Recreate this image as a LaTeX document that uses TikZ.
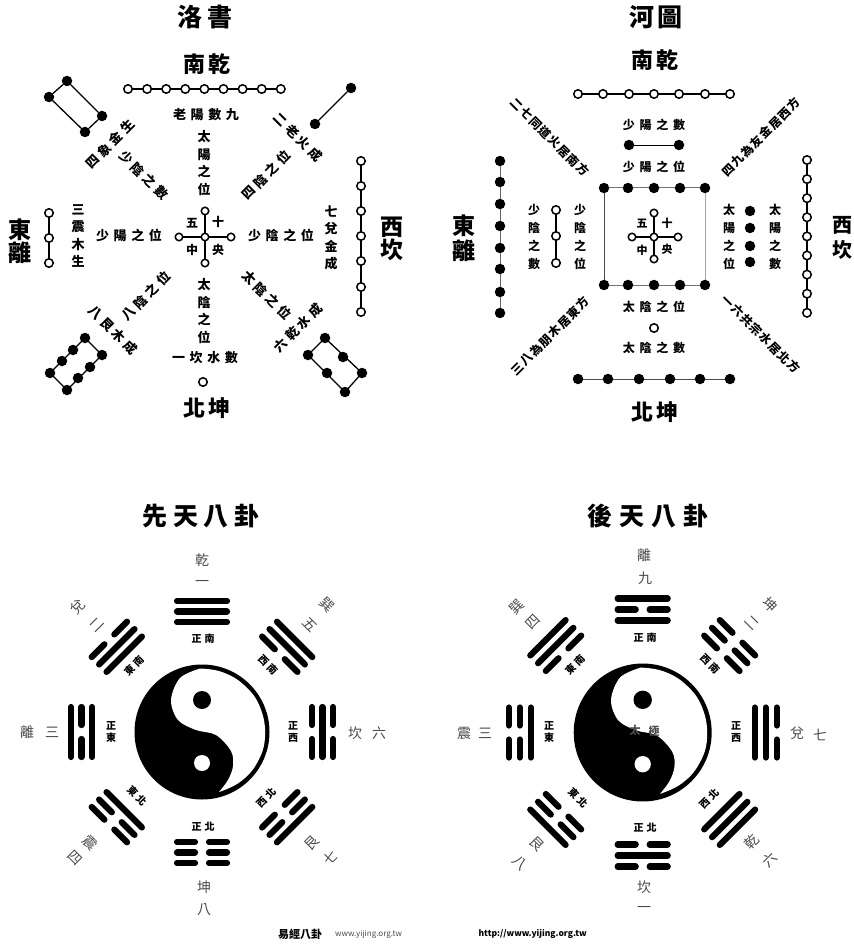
\documentclass[tikz,border=0pt]{standalone}
\usepackage{fontspec}
\newfontfamily\cjk{Noto Sans CJK TC}
\newcommand{\cjkb}{\cjk\bfseries}
\tikzset{
  x=1pt,y=-1pt,
  lab/.style={inner sep=0pt,font=\cjkb\fontsize{#1}{#1}\selectfont},
  lab/.default=13,
  vlab/.style={inner sep=0pt,align=center,font=\cjkb\fontsize{13}{17.5}\selectfont},
  glab/.style={inner sep=0pt,text=black!70,font=\cjk\fontsize{#1}{#1}\selectfont},
  glab/.default=14,
  link/.style={line width=1.3pt,black},
  od/.style={circle,draw=black,fill=white,line width=1.5pt,minimum size=8.5pt,inner sep=0pt},
  bd/.style={circle,fill=black,minimum size=10.5pt,inner sep=0pt},
  bar/.style={line width=6.2pt,line cap=round,black},
}
% spaced string, placed and rotated
\newcommand{\spaced}[6]{% x, y, rot, size, letterspace %, text
  \node[lab=#4,rotate=#3] at (#1,#2) {\addfontfeature{LetterSpace=#5}#6};}
% trigram: cx,cy,angle(0 = up, clockwise),r1,r2,r3, inner,mid,outer (1 solid, 0 broken)
\newcommand{\onebar}[2]{%
  \ifnum#2=1
    \draw[bar] (-25,-#1) -- (25,-#1);
  \else
    \draw[bar] (-25,-#1) -- (-7,-#1);
    \draw[bar] (7,-#1) -- (25,-#1);
  \fi}
\newcommand{\trigram}[9]{%
  \begin{scope}[shift={(#1,#2)},rotate=-#3]
    \onebar{#4}{#7}\onebar{#5}{#8}\onebar{#6}{#9}
  \end{scope}}
% yin-yang
\newcommand{\yinyang}[3]{%
  \begin{scope}[shift={(#1,#2)},scale=#3]
    \fill[black] (0,0) circle (67.5);
    \fill[white] plot[smooth,tension=0.55] coordinates {(-2,-63.5) (-22,-54) (-31,-32) (-24,-12) (-6,-2) (14,3) (29,19) (31,34) (26,48) (17,60)}
      -- plot[smooth,tension=0.7] coordinates {(17,60) (38,50) (55,31) (63,5) (58,-25) (42,-47) (20,-60) (-2,-63.5)} -- cycle;
    \fill[black] (0,-32) circle (9);
    \fill[white] (0,31) circle (8);
  \end{scope}}
\begin{document}
\begin{tikzpicture}
\useasboundingbox (0,0) rectangle (853,949);
\fill[white] (0,0) rectangle (853,949);

%%%%%%%% Luo shu
\spaced{205}{17}{0}{25}{22}{洛書}
\spaced{207}{64}{0}{22}{12}{南乾}
% top chain
\draw[link] (128,89) -- (281,89);
\foreach \i in {0,...,8} \node[od] at ({128+\i*19.1},89) {};
% NE pair
\node[bd] (ne1) at (315,124) {}; \node[bd] (ne2) at (351,88) {};
\draw[link] (ne1) -- (ne2);
% NW rect
\node[bd] (a1) at (49,97) {}; \node[bd] (a2) at (67,81) {};
\node[bd] (a3) at (102,116) {}; \node[bd] (a4) at (85,132) {};
\draw[link] (a1) -- (a2) -- (a3) -- (a4) -- (a1);
% SW rect
\draw[link] (50,373) -- (85,338) -- (102,355) -- (67,390) -- cycle;
\foreach \p in {(50,373),(62,361),(73,350),(85,338),(67,390),(78,378),(90,367),(102,355)} \node[bd] at \p {};
% SE rect
\draw[link] (308,355) -- (325,338) -- (362,373) -- (345,392) -- cycle;
\foreach \p in {(325,338),(343,357),(362,373),(308,355),(327,373),(345,392)} \node[bd] at \p {};
% rows
\spaced{206}{115}{0}{13}{35}{老陽數九}
\node[vlab] at (204,163) {太\\陽\\之\\位};
\spaced{110}{144}{45}{13}{28}{四象金生}
\spaced{144}{175}{-45}{13}{28}{少陰之數}
\spaced{298}{137}{-45}{13}{28}{二老火成}
\spaced{266}{175}{45}{13}{28}{四陰之位}
\node[vlab] at (78,236) {三\\震\\木\\生};
\spaced{129}{235}{0}{13}{35}{少陽之位};
\spaced{281}{235}{0}{13}{35}{少陰之位};
\node[vlab] at (331,238) {七\\兌\\金\\成};
\spaced{146}{296}{45}{13}{28}{八陰之位}
\spaced{113}{330}{-45}{13}{28}{八艮木成}
\spaced{267}{295}{-45}{13}{28}{太陰之位}
\spaced{298}{328}{45}{13}{28}{六乾水成}
\node[vlab] at (204,311) {太\\陰\\之\\位};
\spaced{205}{358}{0}{13}{35}{一坎水數}
\node[od] at (203,382) {};
\spaced{207}{408}{0}{22}{12}{北坤}
% east
\node[vlab,font=\cjkb\fontsize{23}{23.5}\selectfont] at (20,241) {東\\離};
\draw[link] (49,213) -- (49,263);
\foreach \y in {213,238,263} \node[od] at (49,\y) {};
% west
\node[vlab,font=\cjkb\fontsize{23}{23.5}\selectfont] at (392,239) {西\\坎};
\draw[link] (361,161) -- (361,312);
\foreach \y in {161,186,211,236,261,287,312} \node[od] at (361,\y) {};
% centre
\draw[link] (179,237) -- (231,237) (205,211) -- (205,263);
\foreach \p in {(179,237),(231,237),(205,211),(205,263),(205,237)} \node[od,minimum size=7.5pt] at \p {};
\node[lab=12] at (192,223) {五}; \node[lab=12] at (218,222) {十};
\node[lab=12] at (192,250) {中}; \node[lab=12] at (218,250) {央};

%%%%%%%% He tu
\spaced{656}{17}{0}{25}{10}{河圖}
\spaced{655}{60}{0}{22}{12}{南乾}
\draw[link] (578,94) -- (730,94);
\foreach \x in {578,603,629,654,679,705,730} \node[od] at (\x,94) {};
\spaced{654}{125}{0}{12}{40}{少陽之數}
\node[bd] (t1) at (629,145) {}; \node[bd] (t2) at (679,145) {};
\draw[link,line width=.9pt] (t1) -- (t2);
\spaced{654}{167}{0}{12}{40}{少陽之位}
% square
\draw[black!70,line width=1pt] (604,188) -- (604,285);
\draw[black!35,line width=1pt] (705,188) -- (705,285);
\draw[black!55,line width=1pt] (604,188) -- (705,188) (604,285) -- (705,285);
\foreach \x in {604,628,654,680,705} { \node[bd] at (\x,188) {}; \node[bd] at (\x,285) {}; }
% centre
\draw[link] (632,237) -- (678,237) (654,213) -- (654,259);
\foreach \p in {(632,237),(678,237),(654,213),(654,259),(654,237)} \node[od,minimum size=7.5pt] at \p {};
\node[lab=11] at (642,224) {五}; \node[lab=11] at (667,223) {十};
\node[lab=11] at (642,250) {中}; \node[lab=11] at (667,249) {央};
\spaced{654}{307}{0}{12}{40}{太陰之位}
\node[od] at (654,328) {};
\spaced{654}{348}{0}{12}{40}{太陰之數}
% bottom chain
\draw[link,line width=.8pt,black!70] (578,379) -- (730,379);
\foreach \x in {578,608,639,670,700,730} \node[bd] at (\x,379) {};
\spaced{655}{412}{0}{22}{12}{北坤}
% left
\node[vlab,font=\cjkb\fontsize{23}{25}\selectfont] at (464,238) {東\\離};
\draw[link,line width=.8pt,black!60] (500,161) -- (500,313);
\foreach \y in {161,182,204,226,248,269,292,313} \node[bd] at (500,\y) {};
\node[vlab,font=\cjkb\fontsize{12}{18}\selectfont] at (534,237) {少\\陰\\之\\數};
\draw[link] (556,210) -- (556,263);
\foreach \y in {210,236,263} \node[od] at (556,\y) {};
\node[vlab,font=\cjkb\fontsize{12}{18}\selectfont] at (580,237) {少\\陰\\之\\位};
% right
\node[vlab,font=\cjkb\fontsize{12}{18}\selectfont] at (729,237) {太\\陽\\之\\位};
\foreach \y in {211,228,246,262} \node[bd] at (750,\y) {};
\node[vlab,font=\cjkb\fontsize{12}{18}\selectfont] at (775,237) {太\\陽\\之\\數};
\draw[link] (807,160) -- (807,313);
\foreach \i in {0,...,8} \node[od] at (807,{160+\i*19.1}) {};
\node[vlab,font=\cjkb\fontsize{20}{25}\selectfont] at (842,238) {西\\坎};
% diagonals
\spaced{550}{137}{-45}{12}{10}{二七同道火居南方}
\spaced{761}{137}{45}{12}{10}{四九為友金居西方}
\spaced{550}{336}{45}{12}{10}{三八為朋木居東方}
\spaced{761}{334}{-45}{12}{10}{一六共宗水居北方}

%%%%%%%% Xian tian
\spaced{201}{516}{0}{25}{22}{先天八卦}
\yinyang{202}{732}{1}
\trigram{202}{732}{0}{110}{120.5}{131}{1}{1}{1}
\trigram{202}{732}{45}{110}{120.5}{131}{0}{1}{1}
\trigram{202}{732}{90}{110}{120.5}{131}{0}{1}{0}
\trigram{202}{732}{135}{110}{120.5}{131}{0}{0}{1}
\trigram{202}{732}{180}{110}{120.5}{131}{0}{0}{0}
\trigram{202}{732}{225}{110}{120.5}{131}{1}{0}{0}
\trigram{202}{732}{270}{110}{120.5}{131}{1}{0}{1}
\trigram{202}{732}{315}{110}{120.5}{131}{1}{1}{0}
% outer labels
\node[glab] at (202,560) {乾}; \node[glab] at (202,583) {一};
\node[glab] at (204,887) {坤}; \node[glab] at (204,910) {八};
\node[glab] at (27,732) {離}; \node[glab] at (52,732) {三};
\node[glab] at (355,733) {坎}; \node[glab] at (379,733) {六};
\node[glab,rotate=45] at (78,607) {兌}; \node[glab,rotate=45] at (97,625) {二};
\node[glab,rotate=-45] at (327,605) {巽}; \node[glab,rotate=-45] at (310,625) {五};
\node[glab,rotate=-45] at (90,843) {震}; \node[glab,rotate=-45] at (75,858) {四};
\node[glab,rotate=45] at (312,843) {艮}; \node[glab,rotate=45] at (330,858) {七};
% inner labels
\spaced{203}{639}{0}{10}{30}{正南}
\spaced{203}{827}{0}{10}{30}{正北}
\node[vlab,font=\cjkb\fontsize{10}{12}\selectfont] at (111,732) {正\\東};
\node[vlab,font=\cjkb\fontsize{10}{12}\selectfont] at (293,732) {正\\西};
\spaced{134}{666}{45}{10}{25}{東南}
\spaced{268}{665}{-45}{10}{25}{西南}
\spaced{137}{796}{-45}{10}{25}{東北}
\spaced{266}{798}{45}{10}{25}{西北}

%%%%%%%% Hou tian
\spaced{648}{516}{0}{25}{28}{後天八卦}
\yinyang{642.7}{732.5}{1.022}
\trigram{642.7}{732.5}{0}{112}{123}{134}{1}{0}{1}
\trigram{642.7}{732.5}{45}{112}{123}{134}{0}{0}{0}
\trigram{642.7}{732.5}{90}{112}{123}{134}{1}{1}{0}
\trigram{642.7}{732.5}{135}{112}{123}{134}{1}{1}{1}
\trigram{642.7}{732.5}{180}{112}{123}{134}{0}{1}{0}
\trigram{642.7}{732.5}{225}{112}{123}{134}{0}{0}{1}
\trigram{642.7}{732.5}{270}{112}{123}{134}{1}{0}{0}
\trigram{642.7}{732.5}{315}{112}{123}{134}{0}{1}{1}
\node[inner sep=0pt,text=black!70,font=\cjkb\fontsize{11}{11}\selectfont] at (635,730) {太};
\node[inner sep=0pt,text=black!70,font=\cjkb\fontsize{11}{11}\selectfont] at (654,731) {極};
\node[glab] at (644,555) {離}; \node[glab] at (645,578) {九};
\node[glab] at (644,887) {坎}; \node[glab] at (644,909) {一};
\node[glab] at (464,733) {震}; \node[glab] at (485,733) {三};
\node[glab] at (797,733) {兌}; \node[glab] at (820,735) {七};
\node[glab,rotate=45] at (517,607) {巽}; \node[glab,rotate=45] at (533,622) {四};
\node[glab,rotate=-45] at (770,605) {坤}; \node[glab,rotate=-45] at (752,623) {二};
\node[glab,rotate=-45] at (537,844) {艮}; \node[glab,rotate=-45] at (520,863) {八};
\node[glab,rotate=45] at (752,842) {乾}; \node[glab,rotate=45] at (770,860) {六};
\spaced{645}{638}{0}{10}{30}{正南}
\spaced{645}{828}{0}{10}{30}{正北}
\node[vlab,font=\cjkb\fontsize{10}{12}\selectfont] at (549,732) {正\\東};
\node[vlab,font=\cjkb\fontsize{10}{12}\selectfont] at (736,732) {正\\西};
\spaced{575}{665}{45}{10}{25}{東南}
\spaced{710}{664}{-45}{10}{25}{西南}
\spaced{578}{798}{-45}{10}{25}{東北}
\spaced{709}{799}{45}{10}{25}{西北}

%%%%%%%% footer
\node[lab=11,anchor=west] at (278,934) {易經八卦};
\node[inner sep=0pt,anchor=west,text=black!70,font=\cjk\fontsize{8}{8}\selectfont] at (335,934) {www.yijing.org.tw};
\node[inner sep=0pt,anchor=east,font=\cjkb\fontsize{8.5}{8.5}\selectfont] at (587,934) {http://www.yijing.org.tw};
\end{tikzpicture}
\end{document}
